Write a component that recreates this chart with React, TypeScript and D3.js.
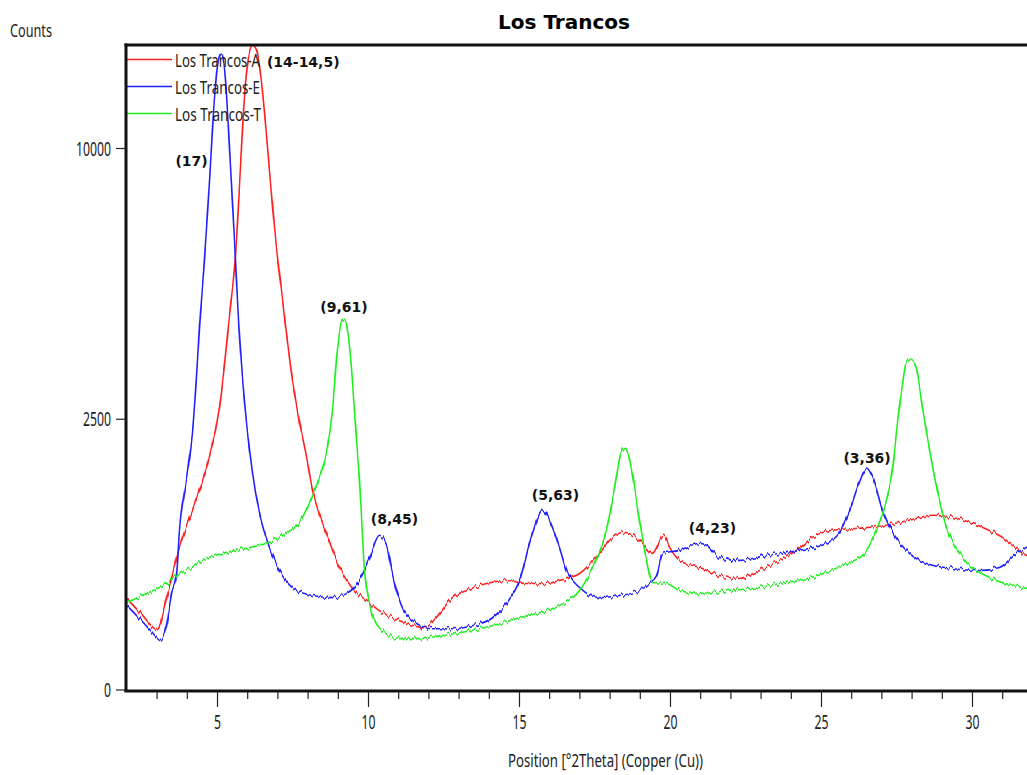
import React from 'react';
import * as d3 from 'd3';

// Diffractogram traces: [position °2θ, counts]
const losTrancosA: [number, number][] = [
  [2.0, 285], [2.5, 194], [3.0, 124], [3.35, 317], [3.74, 694], [4.17, 1103], [4.64, 1696],
  [5.07, 2737], [5.4, 4815], [5.6, 6483], [5.76, 9272], [5.89, 11944], [6.03, 13705], [6.16, 14187],
  [6.29, 13967], [6.46, 12558], [6.66, 10000], [6.89, 7252], [7.15, 5209], [7.48, 3287], [7.72, 2435],
  [7.95, 1853], [8.15, 1363], [8.61, 838], [9.04, 512], [9.47, 351], [9.93, 273], [10.36, 215],
  [11.03, 164], [11.85, 132], [12.35, 199], [12.78, 291], [13.25, 337], [13.91, 387], [14.57, 409],
  [15.23, 387], [15.89, 387], [16.32, 409], [16.99, 463], [17.65, 637], [18.08, 795], [18.48, 848],
  [18.97, 764], [19.4, 637], [19.77, 816], [19.97, 694], [20.3, 573], [20.96, 512], [21.62, 447],
  [22.28, 424], [22.95, 487], [23.61, 573], [24.27, 684], [24.7, 795], [25.36, 870], [26.26, 892],
  [27.15, 926], [27.91, 983], [28.68, 1042], [29.47, 1007], [30.33, 903], [30.99, 795], [31.66, 637],
  [32.2, 573],
];

const losTrancosE: [number, number][] = [
  [2.0, 243], [2.42, 174], [2.85, 112], [3.11, 83], [3.31, 141], [3.48, 317], [3.64, 447], [3.74, 870],
  [3.97, 1504], [4.17, 2256], [4.3, 3287], [4.4, 4436], [4.57, 6335], [4.74, 8917], [4.9, 11944],
  [5.03, 13532], [5.13, 13836], [5.26, 12766], [5.4, 10000], [5.56, 6939], [5.7, 4600], [5.83, 3300],
  [5.96, 2450], [6.16, 1606], [6.39, 1066], [6.72, 694], [7.05, 487], [7.48, 358], [8.15, 304],
  [8.81, 291], [9.27, 317], [9.7, 409], [10.03, 591], [10.36, 816], [10.6, 714], [10.79, 463],
  [11.03, 273], [11.46, 164], [12.12, 128], [12.78, 128], [13.44, 141], [14.11, 178], [14.57, 255],
  [15.0, 409], [15.43, 838], [15.76, 1103], [16.09, 903], [16.32, 694], [16.56, 487], [16.99, 358],
  [17.65, 291], [18.31, 304], [18.97, 337], [19.3, 387], [19.54, 447], [19.74, 637], [20.3, 665],
  [20.96, 734], [21.19, 714], [21.62, 600], [22.28, 573], [23.18, 618], [24.27, 665], [25.17, 734],
  [25.6, 848], [25.93, 1103], [26.26, 1475], [26.49, 1681], [26.69, 1547], [27.02, 1103], [27.42, 816],
  [27.91, 637], [28.48, 546], [29.34, 504], [30.23, 487], [30.89, 512], [31.46, 637], [31.79, 694],
  [32.2, 764],
];

const losTrancosT: [number, number][] = [
  [2.0, 260], [2.65, 317], [3.31, 387], [3.74, 463], [3.97, 487], [4.64, 591], [5.3, 646], [5.96, 684],
  [6.62, 734], [7.28, 838], [7.72, 960], [8.15, 1295], [8.38, 1547], [8.61, 1933], [8.81, 2679],
  [8.97, 3956], [9.11, 4611], [9.21, 4687], [9.3, 4436], [9.44, 3503], [9.54, 2622], [9.7, 1504],
  [9.87, 487], [10.03, 255], [10.36, 132], [11.03, 90], [11.69, 90], [12.35, 100], [13.01, 112],
  [13.68, 128], [14.34, 150], [15.0, 178], [15.66, 204], [16.32, 243], [16.99, 337], [17.42, 512],
  [17.88, 870], [18.21, 1547], [18.34, 1885], [18.48, 1999], [18.61, 1885], [18.77, 1504], [18.97, 983],
  [19.21, 573], [19.4, 394], [19.87, 387], [20.3, 337], [20.96, 317], [21.85, 337], [22.72, 351],
  [23.61, 387], [24.27, 409], [25.17, 471], [25.83, 546], [26.36, 618], [26.82, 870], [27.15, 1229],
  [27.35, 1651], [27.48, 2256], [27.68, 3181], [27.81, 3658], [27.98, 3726], [28.15, 3503], [28.34, 2737],
  [28.58, 1966], [28.81, 1405], [29.14, 903], [29.67, 600], [30.56, 432], [31.66, 358], [32.2, 337],
];

const seriesNames = ['Los Trancos-A', 'Los Trancos-E', 'Los Trancos-T'];
const seriesColors = ['#ff1f1f', '#1f1fff', '#1fef1f'];
const seriesData = [losTrancosA, losTrancosE, losTrancosT];

const yTickValues = [0, 2500, 10000];
const xMajorTicks = [5, 10, 15, 20, 25, 30];
const xMinorTicks = [3, 4, 6, 7, 8, 9, 11, 12, 13, 14, 16, 17, 18, 19, 21, 22, 23, 24, 26, 27, 28, 29, 31];

// d-spacing annotations (Å): text, position °2θ, counts at label centre
const peakLabels: { text: string; theta: number; counts: number }[] = [
  { text: '(14-14,5)', theta: 7.84, counts: 13449 },
  { text: '(17)', theta: 4.14, counts: 9544 },
  { text: '(9,61)', theta: 9.19, counts: 5003 },
  { text: '(8,45)', theta: 10.86, counts: 997 },
  { text: '(5,63)', theta: 16.19, counts: 1297 },
  { text: '(4,23)', theta: 21.39, counts: 895 },
  { text: '(3,36)', theta: 26.51, counts: 1836 },
];

const W = 1027;
const H = 775;
const left = 126;
const top = 45;
const bottom = 690;

const x = d3.scaleLinear().domain([5, 30]).range([217.5, 972.5]);
const y = d3.scaleSqrt().domain([0, 10000]).range([bottom, 148.5]);

const line = d3
  .line<[number, number]>()
  .x((d) => x(d[0]))
  .y((d) => y(d[1]))
  .curve(d3.curveMonotoneX);

const narrow = '"Noto Sans", "Open Sans", sans-serif';
const bold = '"DejaVu Sans", Verdana, sans-serif';

// Narrow axis-style text, squeezed horizontally to a given drawn width.
function NarrowText(props: {
  x: number;
  y: number;
  width: number;
  size: number;
  anchor?: 'start' | 'middle' | 'end';
  children: string;
}) {
  const sx = 0.75;
  return (
    <text
      transform={`translate(${props.x},${props.y}) scale(${sx},1)`}
      textAnchor={props.anchor ?? 'start'}
      fontFamily={narrow}
      fontSize={props.size}
      fill="#222"
      textLength={props.width / sx}
      lengthAdjust="spacingAndGlyphs"
    >
      {props.children}
    </text>
  );
}

export default function App() {
  return (
    <svg
      width={W}
      height={H}
      viewBox={`0 0 ${W} ${H}`}
      style={{ position: 'absolute', left: 0, top: 0, background: '#fff' }}
    >
      <defs>
        <clipPath id="plotArea">
          <rect x={left + 1} y={top + 1} width={W - left} height={bottom - top - 1} />
        </clipPath>
        {/* counting-statistics jitter: vertical-only displacement varying along 2θ */}
        <filter
          id="counting-noise"
          filterUnits="userSpaceOnUse"
          x={0}
          y={0}
          width={W}
          height={H}
          colorInterpolationFilters="sRGB"
        >
          <feTurbulence type="fractalNoise" baseFrequency="0.3 0" numOctaves={2} seed={7} result="n" />
          <feColorMatrix
            in="n"
            type="matrix"
            values="0 0 0 0 0.5  0 1 0 0 0  0 0 0 0 0  0 0 0 0 1"
            result="m"
          />
          <feDisplacementMap in="SourceGraphic" in2="m" scale={9} xChannelSelector="R" yChannelSelector="G" />
        </filter>
      </defs>

      {/* title */}
      <text
        x={564}
        y={29}
        textAnchor="middle"
        fontFamily={bold}
        fontWeight="bold"
        fontSize={20}
        fill="#000"
      >
        Los Trancos
      </text>

      {/* y axis caption */}
      <NarrowText x={10} y={37} width={42} size={18}>
        Counts
      </NarrowText>

      {/* traces */}
      <g clipPath="url(#plotArea)">
        <g filter="url(#counting-noise)">
          {seriesData.map((d, i) => (
            <path key={seriesNames[i]} d={line(d) ?? ''} fill="none" stroke={seriesColors[i]} strokeWidth={1.6} />
          ))}
        </g>
      </g>

      {/* legend */}
      {seriesNames.map((name, i) => (
        <g key={name}>
          <line x1={127} x2={172} y1={59.5 + i * 27} y2={59.5 + i * 27} stroke={seriesColors[i]} strokeWidth={1.5} />
          <NarrowText x={175} y={67 + i * 27} width={name.endsWith('T') ? 86 : 85} size={18}>
            {name}
          </NarrowText>
        </g>
      ))}

      {/* peak annotations */}
      {peakLabels.map((p) => (
        <text
          key={p.text}
          x={x(p.theta)}
          y={y(p.counts) + 5}
          textAnchor="middle"
          fontFamily={bold}
          fontWeight="bold"
          fontSize={14}
          fill="#111"
        >
          {p.text}
        </text>
      ))}

      {/* axes frame */}
      <line x1={left} x2={left} y1={top - 1.5} y2={bottom + 2} stroke="#111" strokeWidth={3} />
      <line x1={left - 1.5} x2={W} y1={top} y2={top} stroke="#111" strokeWidth={3} />
      <line x1={left - 1.5} x2={W} y1={bottom + 1} y2={bottom + 1} stroke="#111" strokeWidth={3} />

      {/* y ticks */}
      {yTickValues.map((v) => (
        <g key={v}>
          <line x1={116} x2={left} y1={y(v)} y2={y(v)} stroke="#222" strokeWidth={1.2} />
          <NarrowText x={111} y={y(v) + 7} width={String(v).length * 7} size={19} anchor="end">
            {String(v)}
          </NarrowText>
        </g>
      ))}

      {/* x ticks */}
      {xMinorTicks.map((t) => (
        <line key={t} x1={x(t)} x2={x(t)} y1={bottom + 2} y2={bottom + 9} stroke="#222" strokeWidth={1.2} />
      ))}
      {xMajorTicks.map((t) => (
        <g key={t}>
          <line x1={x(t)} x2={x(t)} y1={bottom + 2} y2={bottom + 17} stroke="#222" strokeWidth={1.2} />
          <NarrowText x={x(t)} y={729} width={String(t).length * 7} size={19} anchor="middle">
            {String(t)}
          </NarrowText>
        </g>
      ))}

      {/* x axis caption */}
      <NarrowText x={508} y={767} width={195} size={18}>
        Position [°2Theta] (Copper (Cu))
      </NarrowText>
    </svg>
  );
}
